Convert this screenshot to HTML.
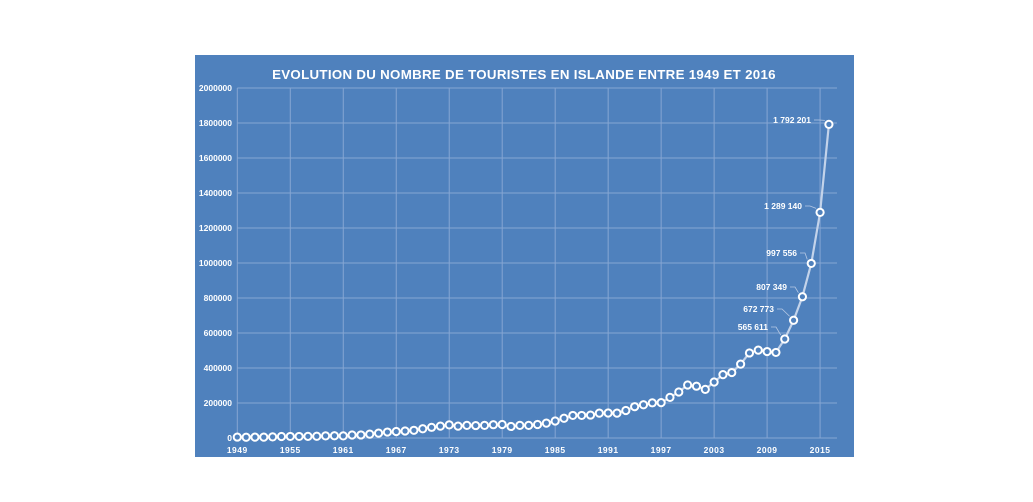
<!DOCTYPE html>
<html><head><meta charset="utf-8"><style>
html,body{margin:0;padding:0;background:#fff;width:1033px;height:502px;overflow:hidden}
svg{display:block}
text{font-family:"Liberation Sans",sans-serif;fill:#fff;font-weight:bold}
</style></head><body>
<svg id="s" width="1033" height="502" xmlns="http://www.w3.org/2000/svg">
<rect x="195" y="55" width="659" height="402" fill="#4f81bd"/>
<text x="524" y="79" text-anchor="middle" font-size="13.3" letter-spacing="0.3">EVOLUTION DU NOMBRE DE TOURISTES EN ISLANDE ENTRE 1949 ET 2016</text>
<g id="grid" stroke="#86a6d3" stroke-width="1"></g>
<g id="lab" font-size="8.5"></g>
<polyline id="ln" fill="none" stroke="#c3d3ea" stroke-width="2.2"/>
<g id="pts"></g>
<g id="ann" font-size="8.5"></g>
</svg>
<script>
var NS="http://www.w3.org/2000/svg";
function el(p,t,a,txt){var e=document.createElementNS(NS,t);for(var k in a)e.setAttribute(k,a[k]);if(txt!=null)e.textContent=txt;document.getElementById(p).appendChild(e);return e;}
var x0=237.3,dx=8.83,y0=438,ys=350/2e6,xr=837;
function X(y){return x0+(y-1949)*dx}function Y(v){return y0-v*ys}
for(var i=0;i<=10;i++){var v=i*200000,y=Y(v);el("grid","line",{x1:x0,x2:xr,y1:y,y2:y});
el("lab","text",{x:232,y:y+3,"text-anchor":"end"},String(v));}
for(var yr=1949;yr<=2015;yr+=6){var x=X(yr);el("grid","line",{x1:x,x2:x,y1:88,y2:y0});
el("lab","text",{x:x,y:453,"text-anchor":"middle","letter-spacing":"0.5"},String(yr));}
var d=[5312,4383,4823,4955,6412,8500,9000,9000,9500,10000,12000,13000,12000,17000,17500,22000,28000,34000,37000,40000,44000,53000,61000,68000,75000,68000,72000,71000,72000,76000,77000,66000,72000,72000,77000,85000,97000,113000,129000,129000,131000,142000,143000,142000,157000,179000,190000,201000,202000,232000,263000,303000,296000,278000,320000,362000,374000,422000,486000,502000,494000,489000,565611,672773,807349,997556,1289140,1792201];
var pts=d.map(function(v,i){return X(1949+i).toFixed(1)+","+Y(v).toFixed(1)}).join(" ");
document.getElementById("ln").setAttribute("points",pts);
d.forEach(function(v,i){el("pts","circle",{cx:X(1949+i),cy:Y(v),r:3.6,fill:"#4f81bd",stroke:"#fff","stroke-width":2});});
var an=[[2011,"565 611",768,330],[2012,"672 773",774,312],[2013,"807 349",787,290],[2014,"997 556",797,256],[2015,"1 289 140",802,209],[2016,"1 792 201",811,123]];
an.forEach(function(a){var x=X(a[0]),y=Y(d[a[0]-1949]);
el("ann","text",{x:a[2],y:a[3],"text-anchor":"end"},a[1]);
el("ann","polyline",{points:(a[2]+3)+","+(a[3]-3)+" "+(a[2]+8)+","+(a[3]-3)+" "+(x-4)+","+(y-4),fill:"none",stroke:"#b7c9e4","stroke-width":0.8});});
</script>
</body></html>
